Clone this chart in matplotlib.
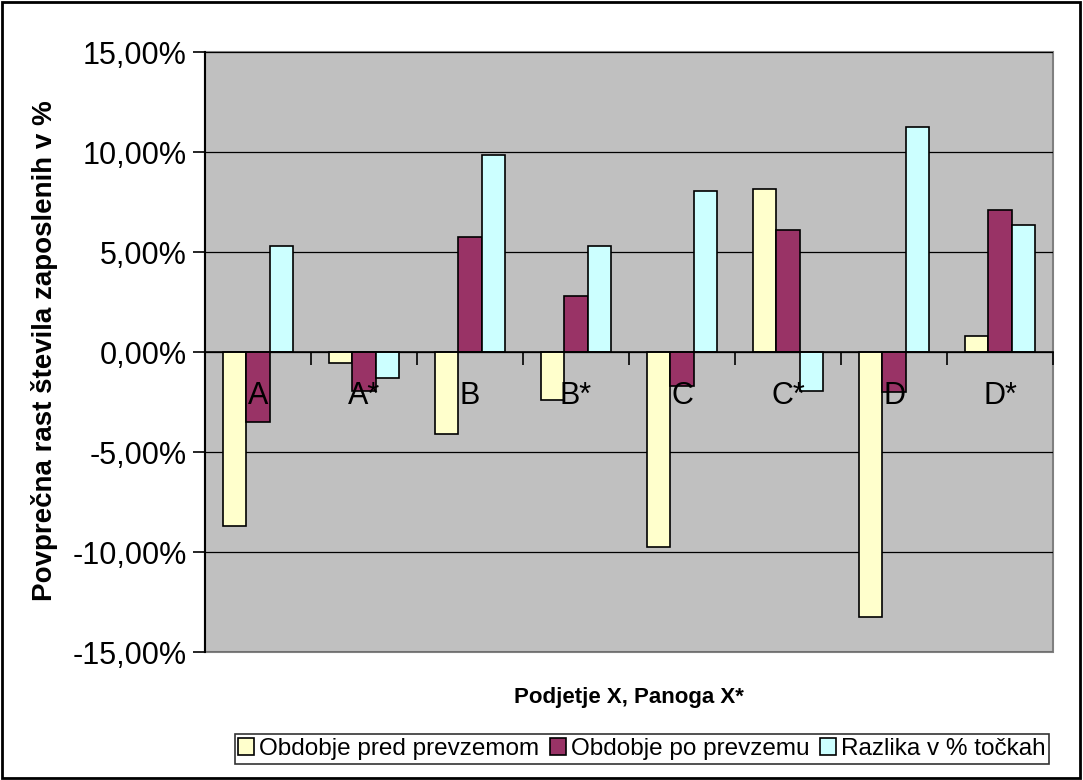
import matplotlib
matplotlib.use("Agg")
import matplotlib.pyplot as plt
from matplotlib.patches import Patch, Rectangle

# podatki (povprečna rast v %)
kategorije = ["A", "A*", "B", "B*", "C", "C*", "D", "D*"]
pred_prevzemom = [-8.69, -0.55, -4.11, -2.42, -9.77, 8.14, -13.26, 0.79]
po_prevzemu = [-3.51, -1.97, 5.74, 2.79, -1.70, 6.12, -2.00, 7.12]
razlika = [5.28, -1.31, 9.84, 5.28, 8.05, -1.97, 11.23, 6.33]

serije = ["Obdobje pred prevzemom", "Obdobje po prevzemu", "Razlika v % točkah"]
barve = ["#FFFFCC", "#993366", "#CCFFFF"]
y_ticks = [-15, -10, -5, 0, 5, 10, 15]

W, H = 1083, 780
plt.rcParams["font.family"] = ["Liberation Sans", "DejaVu Sans"]

fig = plt.figure(figsize=(W / 100, H / 100), dpi=100)
ax = fig.add_axes([205 / W, 1 - 652 / H, 848 / W, 600 / H])
ax.set_facecolor("#C0C0C0")

sirina = 1 / 4.5
x = list(range(len(kategorije)))
for j, (vals, barva) in enumerate(zip([pred_prevzemom, po_prevzemu, razlika], barve)):
    pos = [i + (j - 1) * sirina for i in x]
    ax.bar(pos, vals, width=sirina, color=barva, edgecolor="black", linewidth=1.2, zorder=3)

ax.set_xlim(-0.5, len(kategorije) - 0.5)
ax.set_ylim(-15, 15)

# mreža in os y
ax.set_yticks(y_ticks)
ax.set_yticklabels([f"{v:.2f}%".replace(".", ",") for v in y_ticks], fontsize=22)
ax.yaxis.grid(True, color="black", linewidth=0.9, zorder=1)
ax.set_axisbelow(True)
ax.tick_params(axis="y", direction="out", length=9, width=1.2, pad=4)

# os x na ničli, kljukice med kategorijami
for s in ["top", "right"]:
    ax.spines[s].set_visible(False)
ax.spines["bottom"].set_position(("data", 0))
ax.spines["bottom"].set_zorder(4)
ax.spines["bottom"].set_linewidth(1.2)
ax.spines["left"].set_linewidth(1.5)
ax.set_xticks([i + 0.5 for i in range(-1, len(kategorije))])
ax.set_xticklabels([])
ax.tick_params(axis="x", which="major", direction="out", length=9, width=1.2)
ax.add_patch(Rectangle((0, 0), 1, 1, transform=ax.transAxes, fill=False,
                       edgecolor="#808080", linewidth=1.5, zorder=0, clip_on=False))

# oznake kategorij nad stolpci
for i, k in zip(x, kategorije):
    ax.annotate(k, (i, 0), xytext=(0, -32), textcoords="offset points",
                ha="center", va="center", fontsize=22, zorder=6)

fig.text(45 / W, 1 - 351 / H, "Povprečna rast števila zaposlenih v %", rotation=90,
         ha="center", va="center", fontsize=20, fontweight="bold")
fig.text(629 / W, 1 - 697 / H, "Podjetje X, Panoga X*", ha="center", va="center",
         fontsize=16, fontweight="bold")

rocaji = [Patch(facecolor=b, edgecolor="black", linewidth=1.2) for b in barve]
leg = fig.legend(rocaji, serije, loc="center", bbox_to_anchor=(642 / W, 1 - 749 / H),
                 ncol=3, fontsize=17.5, frameon=True, fancybox=False, handlelength=0.65,
                 handleheight=0.65, handletextpad=0.2, columnspacing=0.45, borderpad=0.15)
leg.get_frame().set_edgecolor("black")
leg.get_frame().set_linewidth(1.2)

# okvir grafikona
fig.add_artist(Rectangle((2 / W, 2 / H), 1078 / W, 776 / H, transform=fig.transFigure,
                         fill=False, edgecolor="black", linewidth=2))

fig.savefig("out.png", dpi=100)
